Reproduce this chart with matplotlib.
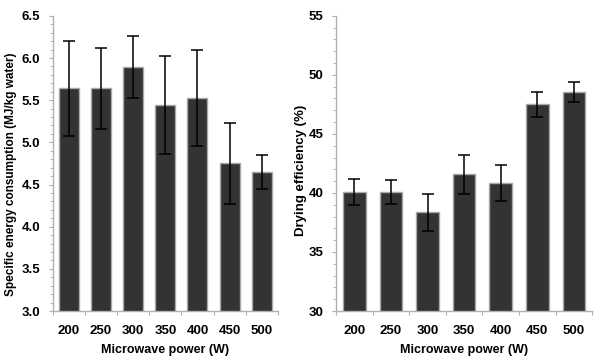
import numpy as np
import matplotlib
matplotlib.use("Agg")
import matplotlib.pyplot as plt
from matplotlib.ticker import MultipleLocator

# -------- DATA --------
power = ["200", "250", "300", "350", "400", "450", "500"]
sec_mean = [5.64, 5.64, 5.89, 5.44, 5.53, 4.75, 4.65]
sec_err = [0.56, 0.48, 0.37, 0.58, 0.57, 0.48, 0.20]
eff_mean = [40.1, 40.1, 38.35, 41.6, 40.85, 47.5, 48.55]
eff_err = [1.1, 1.0, 1.6, 1.65, 1.5, 1.05, 0.85]

plt.rcParams["font.family"] = ["Liberation Sans", "DejaVu Sans"]

fig = plt.figure(figsize=(6, 3.6), dpi=100)
ax1 = fig.add_axes([0.088, 0.136, 0.375, 0.820])
ax2 = fig.add_axes([0.560, 0.136, 0.427, 0.820])

bar_color = "#333333"
edge_color = "#a8a8a8"
spine_color = "#b0b0b0"


def draw_panel(ax, means, errs, ylim, major, minor, ylabel, fmt, lab_size, lab_pos):
    x = np.arange(len(power))
    ax.bar(x, means, width=0.62, color=bar_color, edgecolor=edge_color,
           linewidth=1.0, zorder=2)
    ax.errorbar(x, means, yerr=errs, fmt="none", ecolor="black",
                elinewidth=1.1, capsize=4.5, capthick=1.1, zorder=3)
    ax.set_xlim(-0.5, len(power) - 0.5)
    ax.set_ylim(*ylim)
    ax.yaxis.set_minor_locator(MultipleLocator(minor))
    yt = np.arange(ylim[0], ylim[1] + major / 2, major)
    ax.set_yticks(yt)
    ax.set_yticklabels([fmt.format(v) for v in yt], fontsize=9.5, fontweight="bold")
    # category ticks at boundaries, labels at centres
    ax.set_xticks(np.arange(-0.5, len(power)))
    ax.set_xticklabels([])
    ax.set_xticks(x, minor=True)
    ax.set_xticklabels(power, minor=True, fontsize=9.5, fontweight="bold")
    ax.tick_params(axis="x", which="major", length=3, color=spine_color, direction="out")
    ax.tick_params(axis="x", which="minor", length=0, pad=10)
    ax.tick_params(axis="y", which="major", length=3, color=spine_color, pad=6)
    ax.tick_params(axis="y", which="minor", length=2, color=spine_color)
    for s in ["top", "right"]:
        ax.spines[s].set_visible(False)
    for s in ["left", "bottom"]:
        ax.spines[s].set_color(spine_color)
        ax.spines[s].set_linewidth(1.0)
    ax.set_xlabel("Microwave power (W)", fontsize=9, fontweight="bold", labelpad=5)
    ax.set_ylabel(ylabel, fontsize=lab_size, fontweight="bold")
    ax.yaxis.set_label_coords(*lab_pos)


draw_panel(ax1, sec_mean, sec_err, (3.0, 6.5), 0.5, 0.1,
           "Specific energy consumption (MJ/kg water)", "{:.1f}", 8.5, (-0.16, 0.464))
draw_panel(ax2, eff_mean, eff_err, (30, 55), 5, 1,
           "Drying efficiency (%)", "{:.0f}", 9.5, (-0.115, 0.476))

fig.savefig("out.png", dpi=100)
